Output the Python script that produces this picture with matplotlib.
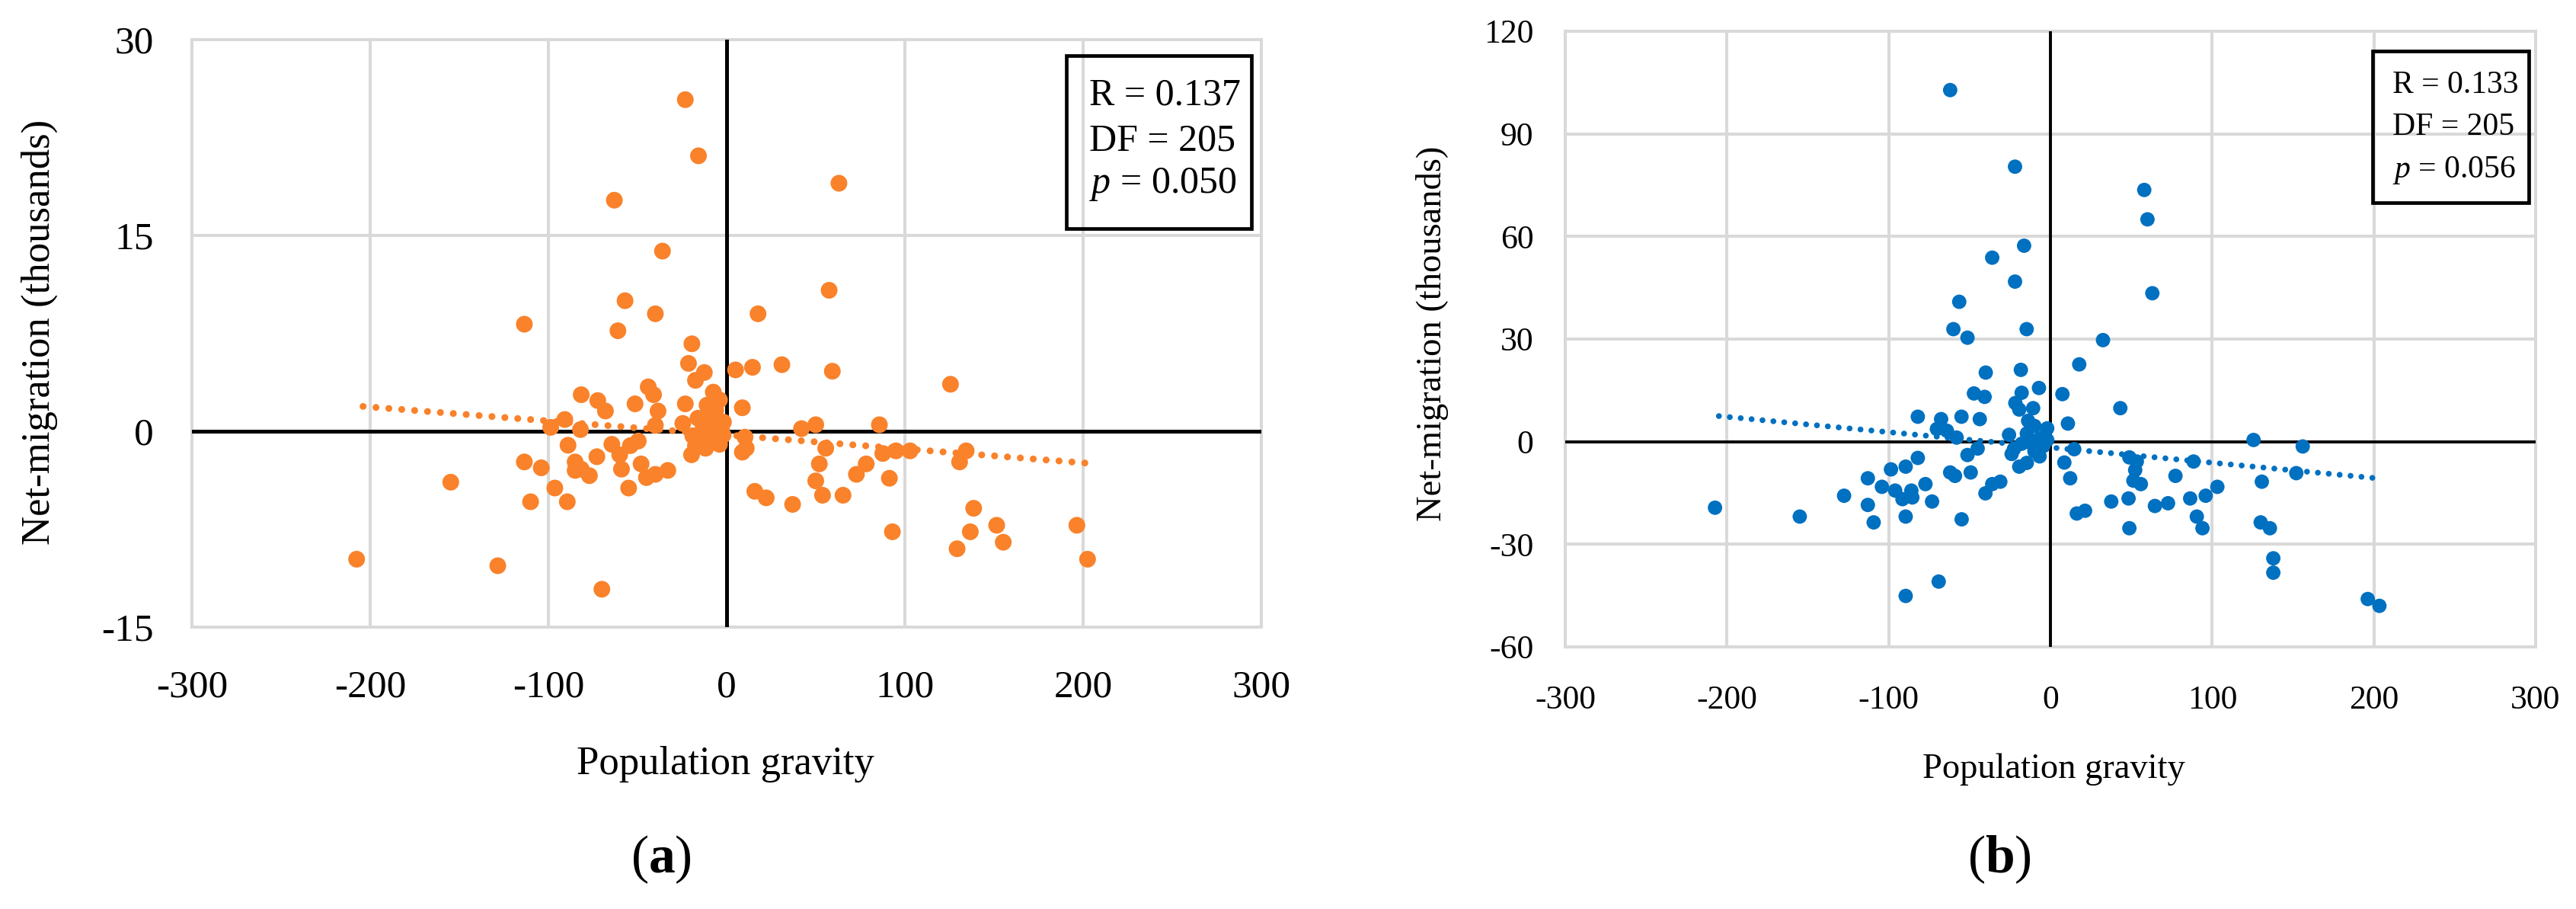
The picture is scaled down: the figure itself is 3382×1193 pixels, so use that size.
import matplotlib
matplotlib.use("Agg")
import matplotlib.pyplot as plt
from matplotlib.patches import Rectangle

plt.rcParams["font.family"] = ["Liberation Serif", "DejaVu Serif"]
plt.rcParams["axes.unicode_minus"] = False
plt.rcParams["mathtext.fontset"] = "custom"
plt.rcParams["mathtext.rm"] = "Liberation Serif"
plt.rcParams["mathtext.it"] = "Liberation Serif:italic"
plt.rcParams["mathtext.bf"] = "Liberation Serif:bold"

W, H = 3382, 1193

# ---- panel (a): population gravity vs net-migration (thousands)
a_x = [-23.2, -15.8, 63, -63, -36, 57.5, -57, -40, -113.5, 17.6, -61, -19.5, 31, 59.3,
       125.6, -44, -41, -81.6, -72.3, -68, -51.4, -38.5, -98.7, -90.8, -82, 42, 50, 85.7,
       -40, -89, -64.4, -49.6, -54, -60, -72.8, -113.5, -104, -85, -81.6, -77, -85, -59,
       -48, -45, -40, -33, -55, -96.4, -110, -89.4, -154.8, 55.6, 52, 50, 15.8, 22.2, 37,
       53.8, 65.3, 72.8, 78.3, 87.6, 95, 102.9, 91.3, 93, 134.4, 130.7, 138.6, 136.7, 151.5,
       155.2, 129.3, 196.5, 202.5, -207.6, -128.4, -70,
       -21.4, -12.5, -17.5, 5, 14.5, -7.5, -4, -23.2, 8.8, -11, -24.6, -1.8, -19, -6.1,
       -13.2, -17.5, -19.7, -11.8, -4, 10.3, 11, 8.8, -9.7, -6.1, -16.1, -8, -3, -14, -9, -2]
a_y = [25.4, 21.1, 19.0, 17.7, 13.8, 10.8, 10.0, 9.0, 8.2, 9.0, 7.7, 6.7, 5.1, 4.6,
       3.6, 3.4, 2.8, 2.8, 2.35, 1.55, 2.1, 1.55, 0.3, 0.9, 0.13, 0.2, 0.5, 0.5,
       0.45, -1.07, -1.0, -0.75, -1.1, -1.8, -1.95, -2.35, -2.8, -2.35, -2.9, -3.4, -3.0, -2.9,
       -2.5, -3.55, -3.3, -3.0, -4.35, -4.35, -5.4, -5.4, -3.9, -1.3, -2.5, -3.8, -4.6, -5.1, -5.6,
       -4.9, -4.9, -3.3, -2.5, -1.7, -1.5, -1.5, -3.6, -7.7, -1.5, -2.35, -5.9, -7.7, -7.2,
       -8.5, -9.0, -7.2, -9.8, -9.8, -10.3, -12.1,
       5.2, 4.5, 3.9, 4.7, 4.9, 3.0, 2.4, 2.1, 1.8, 2.0, 0.6, 0.7, -0.35, -0.55,
       0.23, -1.1, -1.8, -1.3, -1.0, -0.45, -1.3, -1.6, 1.2, 1.6, 1.0, 0.5, 0.2, -0.5, -0.8, -0.3]
a_trend = (-0.28, -0.0107)      # intercept, slope
a_trend_x = (-204, 202)
a_yticks = [-15, 0, 15, 30]
a_stats = ["R = 0.137", "DF = 205", "$p$ = 0.050"]

# ---- panel (b)
b_x = [-62, -21.9, 58, 60, -16.3, -36, -21.9, 63, -56.4, -60, -14.7, -51.3, 32.5, 17.8,
       -40, -18.3, -47.3, -40.7, 43.2, -43.7, -55, -82, -67.6, -70.2, -64, -58, 125.6, 156,
       -45, -51.3, -82, -89.5, -98.6, -62, -59, -49.3, 48.8, 53.4, 52.4, 88.5, 51.3, 55.9,
       77.3, 152, 130.7, 103.2, 96, 86.4, 48.3, 37.6, 72.7, 64.6, 21.4, 16.3, 90.5, 94, 48.8,
       130, 135.7, 137.8, 137.8, 196.2, 203.4, -207.4, -155, -127.6, -112.9, -112.9, -109.3,
       -104.2, -96, -91.5, -86, -85.4, -77.3, -73.2, -89.5, -54.9, -40.2, -36, -31, -89.5,
       -69.1, 14.7, 8.6, 12.2,
       -17.8, -7.1, 7.4, -21.7, -10.7, -19.3, 10.8, -2, -13.8, -25.6, -6.7, -22.5, -9.9,
       -4.4, -17.8, -24, -19.3, -14.6, -6.7, -14.6, -9.9, -3.6, -11.4, -2]
b_y = [102.8, 80.4, 73.6, 65, 57.3, 53.8, 46.8, 43.4, 40.9, 32.9, 32.9, 30.4, 29.7, 22.6,
       20.2, 21, 14.1, 13.1, 9.8, 6.6, 7.3, 7.3, 6.6, 3.7, 3.2, 1.2, 0.5, -1.4,
       -2, -3.9, -4.75, -7.3, -8.1, -9, -10, -9, -4.6, -5.8, -8.3, -5.8, -11.4, -12.4,
       -10, -9.2, -11.7, -13.2, -15.8, -16.6, -16.6, -17.5, -18, -18.8, -20.2, -21, -21.9, -25.3, -25.3,
       -23.6, -25.3, -34.1, -38.3, -46, -48, -19.3, -21.9, -15.8, -10.7, -18.5, -23.6,
       -13.2, -14.3, -16.8, -14.3, -16.3, -12.4, -17.5, -21.9, -22.7, -15.1, -12.4, -11.7, -45.1,
       -40.9, -2.2, -6.1, -10.7,
       14.3, 15.7, 13.9, 11.3, 9.8, 9.4, 5.3, 3.9, 6.1, 2.0, 0.9, -2.1, -2.8,
       -1.3, -0.6, -3.6, -7.3, -6.2, -4.3, 2.4, 4.6, 1.6, -0.6, 0.5]
b_trend = (-1.68, -0.0447)
b_trend_x = (-205, 202)
b_yticks = [-60, -30, 0, 30, 60, 90, 120]
b_stats = ["R = 0.133", "DF = 205", "$p$ = 0.056"]

xticks = [-300, -200, -100, 0, 100, 200, 300]

ORANGE = "#F9822B"
BLUE = "#0070C0"
GRID = "#D9D9D9"


def fx(px):
    return px / W


def fy(py):
    return 1 - py / H


def panel(fig, box, xs, ys, color, msize, trend, trend_x, trend_lw, yticks, tick_fs,
          pad_x, pad_y, grid_lw, zero_lw):
    l, t, r, b = box
    ax = fig.add_axes([fx(l), fy(b), fx(r) - fx(l), fy(t) - fy(b)])
    ax.set_xlim(xticks[0], xticks[-1])
    ax.set_ylim(yticks[0], yticks[-1])
    ax.set_xticks(xticks)
    ax.set_yticks(yticks)
    ax.tick_params(length=0, labelsize=tick_fs)
    ax.tick_params(axis="x", pad=pad_x)
    ax.tick_params(axis="y", pad=pad_y)
    for s in ax.spines.values():
        s.set_visible(False)
    ax.grid(True, color=GRID, lw=grid_lw)
    ax.set_axisbelow(True)
    for gl in ax.get_xgridlines() + ax.get_ygridlines():
        gl.set_clip_on(False)
    ax.axhline(0, color="black", lw=zero_lw, zorder=1)
    ax.axvline(0, color="black", lw=zero_lw, zorder=1)
    ax.scatter(xs, ys, s=msize, color=color, edgecolors="none", zorder=3)
    tx = list(trend_x)
    ax.plot(tx, [trend[0] + trend[1] * v for v in tx], color=color, lw=trend_lw,
            linestyle=(0, (0.01, 1.87)), dash_capstyle="round", zorder=2)
    return ax


def stats_box(fig, rect, lines, text_x, baselines, fs):
    l, t, r, b = rect
    fig.patches.append(Rectangle((fx(l), fy(b)), fx(r) - fx(l), fy(t) - fy(b),
                                 transform=fig.transFigure, fill=False,
                                 edgecolor="black", lw=3.4, zorder=5))
    for s, yb in zip(lines, baselines):
        fig.text(fx(text_x), fy(yb), s, fontsize=fs, ha="left", va="baseline", zorder=6)


fig = plt.figure(figsize=(W / 100, H / 100), dpi=100)

panel(fig, (252, 52, 1656, 823), a_x, a_y, ORANGE, 250, a_trend, a_trend_x, 6.5, a_yticks,
      37, 40, 36, 2.9, 3.6)
panel(fig, (2055, 41, 3329, 849), b_x, b_y, BLUE, 185, b_trend, b_trend_x, 5.5, b_yticks,
      31.5, 36, 30, 2.9, 2.8)

stats_box(fig, (1400, 73, 1643, 300), a_stats, 1430, [137, 197, 253], 36)
stats_box(fig, (3115, 67, 3320, 266), b_stats, 3141, [122, 177, 233], 30)

fig.text(fx(952), fy(1003), "Population gravity", fontsize=38, ha="center", va="center")
fig.text(fx(52), fy(436), "Net-migration (thousands)", fontsize=38, ha="center",
         va="center", rotation=90)
fig.text(fx(2696), fy(1010), "Population gravity", fontsize=33.5, ha="center", va="center")
fig.text(fx(1880), fy(438), "Net-migration (thousands)", fontsize=33.5, ha="center",
         va="center", rotation=90)

fig.text(fx(868), fy(1128), r"($\mathbf{a}$)", fontsize=50, ha="center", va="center")
fig.text(fx(2625), fy(1128), r"($\mathbf{b}$)", fontsize=50, ha="center", va="center")

fig.savefig("out.png", dpi=100, facecolor="white")
